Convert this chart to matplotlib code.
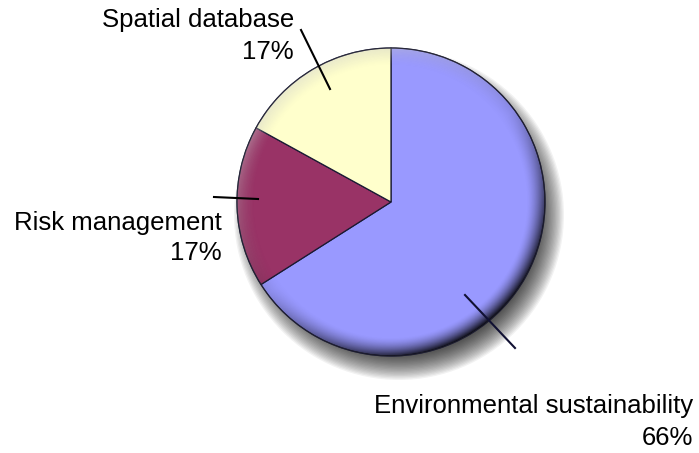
import numpy as np
import matplotlib
matplotlib.use('Agg')
import matplotlib.pyplot as plt
from matplotlib.patches import Circle

labels = ['Environmental sustainability', 'Risk management', 'Spatial database']
shares = [66, 17, 17]
colors = ['#9999FF', '#993366', '#FFFFCC']

W, H = 699, 453
cx, cy, R = 391, H - 202, 154

plt.rcParams['font.family'] = ['Liberation Sans', 'DejaVu Sans']

fig = plt.figure(figsize=(W / 100, H / 100), dpi=100)
ax = fig.add_axes([0, 0, 1, 1])

# soft drop shadow, stacked discs to fake a blur
for i in range(20):
    ax.add_patch(Circle((cx + 8, cy - 13), R + 11 - i * 1.3, color='black',
                        alpha=0.05, lw=0, zorder=1))

wedges, _ = ax.pie(shares, colors=colors, startangle=90, counterclock=False,
                   center=(cx, cy), radius=R, frame=True,
                   wedgeprops=dict(edgecolor='#1a1a33', linewidth=0.9))
for w in wedges:
    w.set_zorder(2)
ax.set_xlim(0, W)
ax.set_ylim(0, H)
ax.set_aspect('equal')
ax.axis('off')

# bevel: light rim at upper left, dark rim at lower right
n = 400
xs = np.linspace(-1, 1, n)
X, Y = np.meshgrid(xs, xs[::-1])
r = np.sqrt(X ** 2 + Y ** 2)
edge = np.clip((r - 0.88) / 0.12, 0, 1) ** 1.6
lit = (-X * 0.6 + Y * 0.8) / np.maximum(r, 1e-6)
shade = np.zeros((n, n, 4))
dark = np.clip(-lit, 0, 1) * edge * 0.8 + edge * 0.12
light = np.clip(lit, 0, 1) * edge * 0.35
shade[..., 3] = np.clip(dark, 0, 1)
im = ax.imshow(shade, extent=(cx - R, cx + R, cy - R, cy + R), zorder=3,
               interpolation='bilinear')
hl = np.ones((n, n, 4))
hl[..., 3] = light
im2 = ax.imshow(hl, extent=(cx - R, cx + R, cy - R, cy + R), zorder=3,
                interpolation='bilinear')
im.set_clip_path(Circle((cx, cy), R, transform=ax.transData))
im2.set_clip_path(Circle((cx, cy), R, transform=ax.transData))
ax.add_patch(Circle((cx, cy), R, fill=False, edgecolor='#222233', lw=0.8,
                    alpha=0.7, zorder=4))
ax.set_xlim(0, W)
ax.set_ylim(0, H)

# leader lines
ax.plot([301, 330], [H - 30, H - 89], color='black', lw=1.5, zorder=5)
ax.plot([214, 258], [H - 197, H - 199], color='black', lw=1.5, zorder=5)
ax.plot([465, 515], [H - 295, H - 348], color='#111133', lw=1.5, zorder=5)

pcts = ['%d%%' % s for s in shares]
fs = 18.5
ax.text(693, H - 422, labels[0] + '\n' + pcts[0], ha='right', va='center',
        multialignment='right', fontsize=fs, linespacing=1.45)
ax.text(222, H - 238, labels[1] + '\n' + pcts[1], ha='right', va='center',
        multialignment='right', fontsize=fs, linespacing=1.35)
ax.text(294, H - 36, labels[2] + '\n' + pcts[2], ha='right', va='center',
        multialignment='right', fontsize=fs, linespacing=1.45)

plt.savefig('out.png', dpi=100)
plt.close()
